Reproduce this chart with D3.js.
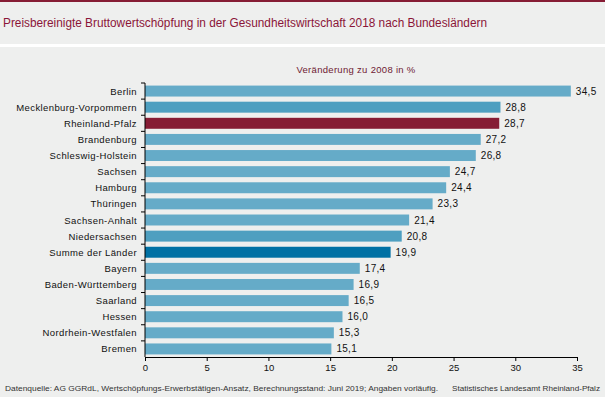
<!DOCTYPE html>
<html lang="de">
<head>
  <meta charset="UTF-8" />
  <title>Bruttowertschöpfung Gesundheitswirtschaft 2018</title>
  <style>
    html, body { margin: 0; padding: 0; background: #eeefee; }
    svg { display: block; font-family: "Liberation Sans", Arial, sans-serif; }
    .cat { font-size: 9.5px; fill: #111; letter-spacing: 0.4px; }
    .val { font-size: 10px; fill: #111; letter-spacing: 0.3px; }
    .tick text { font-size: 9.5px; fill: #111; }
  </style>
  <script src="https://d3js.org/d3.v7.min.js"></script>
</head>
<body>
  <svg id="chart" width="605" height="397"></svg>
  <script>
    const laender = ["Berlin", "Mecklenburg-Vorpommern", "Rheinland-Pfalz", "Brandenburg",
      "Schleswig-Holstein", "Sachsen", "Hamburg", "Thüringen", "Sachsen-Anhalt",
      "Niedersachsen", "Summe der Länder", "Bayern", "Baden-Württemberg", "Saarland",
      "Hessen", "Nordrhein-Westfalen", "Bremen"];
    const veraenderung = [34.5, 28.8, 28.7, 27.2, 26.8, 24.7, 24.4, 23.3, 21.4,
      20.8, 19.9, 17.4, 16.9, 16.5, 16.0, 15.3, 15.1];
    const xTicks = [0, 5, 10, 15, 20, 25, 30, 35];

    const W = 605, H = 397;
    const svg = d3.select("#chart");

    // background + top border
    svg.append("rect").attr("width", W).attr("height", H).attr("fill", "#eeefee");
    svg.append("rect").attr("width", W).attr("height", 2).attr("fill", "#861c34");
    svg.append("rect").attr("y", 44).attr("width", W).attr("height", 3).attr("fill", "#ffffff");

    svg.append("text")
      .attr("x", 3).attr("y", 27)
      .attr("font-size", 12).attr("fill", "#8b1538")
      .attr("textLength", 484).attr("lengthAdjust", "spacingAndGlyphs")
      .text("Preisbereinigte Bruttowertschöpfung in der Gesundheitswirtschaft 2018 nach Bundesländern");

    const x = d3.scaleLinear().domain([0, 35]).range([145, 577]);
    const y = d3.scaleBand().domain(laender).range([83, 357]).paddingInner(0.32).paddingOuter(0.16);

    svg.append("text")
      .attr("x", (x.range()[0] + x.range()[1]) / 2 - 5).attr("y", 73)
      .attr("text-anchor", "middle").attr("font-size", 9.5).attr("fill", "#6e1a33")
      .attr("letter-spacing", "0.3px")
      .text("Veränderung zu 2008 in %");

    function barColor(name) {
      if (name === "Rheinland-Pfalz") return "#861c34";
      if (name === "Summe der Länder") return "#0071a4";
      if (name === "Mecklenburg-Vorpommern" || name === "Niedersachsen") return "#4e9fc0";
      return "#65abc8";
    }

    const rows = laender.map((name, i) => ({ name, value: veraenderung[i] }));

    svg.append("g").selectAll("rect").data(rows).join("rect")
      .attr("x", x(0))
      .attr("y", d => y(d.name))
      .attr("width", d => x(d.value) - x(0))
      .attr("height", y.bandwidth())
      .attr("fill", d => barColor(d.name));

    svg.append("g").selectAll("text").data(rows).join("text")
      .attr("class", "val")
      .attr("x", d => x(d.value) + 5)
      .attr("y", d => y(d.name) + y.bandwidth() / 2 + 3.5)
      .text(d => d3.format(".1f")(d.value).replace(".", ","));

    svg.append("g").selectAll("text").data(rows).join("text")
      .attr("class", "cat")
      .attr("x", 137)
      .attr("y", d => y(d.name) + y.bandwidth() / 2 + 3.5)
      .attr("text-anchor", "end")
      .text(d => d.name);

    // y axis with ticks between categories
    const yAxis = svg.append("g");
    yAxis.append("line")
      .attr("x1", x(0)).attr("x2", x(0))
      .attr("y1", y.range()[0]).attr("y2", y.range()[1])
      .attr("stroke", "#000");
    yAxis.selectAll("line.t").data(d3.range(laender.length)).join("line")
      .attr("class", "t")
      .attr("x1", x(0) - 4).attr("x2", x(0))
      .attr("y1", i => y.range()[0] + i * (y.range()[1] - y.range()[0]) / laender.length)
      .attr("y2", i => y.range()[0] + i * (y.range()[1] - y.range()[0]) / laender.length)
      .attr("stroke", "#000");

    const xAxis = svg.append("g")
      .attr("transform", `translate(0,${y.range()[1]})`)
      .call(d3.axisBottom(x).tickValues(xTicks).tickSize(4).tickSizeOuter(0).tickPadding(3));
    xAxis.select(".domain").attr("stroke", "#000");
    xAxis.selectAll(".tick line").attr("stroke", "#000");

    svg.append("text")
      .attr("x", 5).attr("y", 391).attr("font-size", 8).attr("fill", "#333")
      .attr("textLength", 433).attr("lengthAdjust", "spacingAndGlyphs")
      .text("Datenquelle: AG GGRdL, Wertschöpfungs-Erwerbstätigen-Ansatz, Berechnungsstand: Juni 2019; Angaben vorläufig.");
    svg.append("text")
      .attr("x", 600).attr("y", 391).attr("font-size", 8).attr("fill", "#333")
      .attr("text-anchor", "end")
      .attr("textLength", 148).attr("lengthAdjust", "spacingAndGlyphs")
      .text("Statistisches Landesamt Rheinland-Pfalz");
  </script>
</body>
</html>
